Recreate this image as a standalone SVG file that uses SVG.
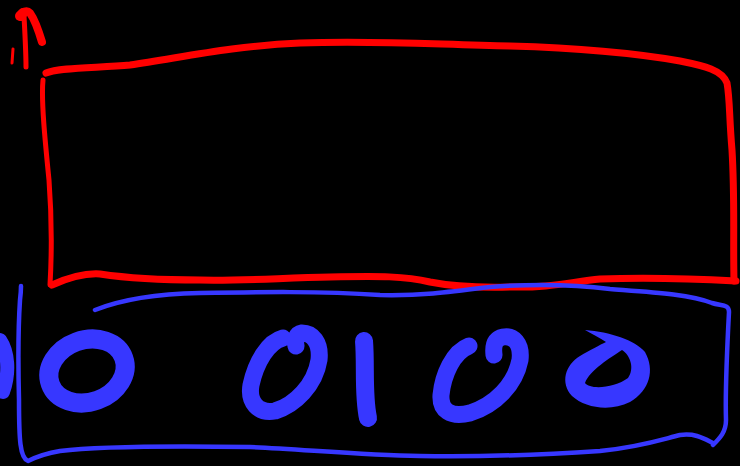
<svg xmlns="http://www.w3.org/2000/svg" width="740" height="466" viewBox="0 0 740 466">
<style>
.r{fill:none;stroke:#ff0000;stroke-linecap:round;stroke-linejoin:round}
.b{fill:none;stroke:#3737ff;stroke-linecap:round;stroke-linejoin:round}
.bf{fill:#3737ff;fill-rule:evenodd}
</style>
<rect width="740" height="466" fill="#000"/>
<g id="mark">
<path class="r" d="M21,17 C22,11 27,10 30,13 C35,20 39,32 42,42" stroke-width="8"/>
<path class="r" d="M24,16 C25,35 26,52 26,67" stroke-width="5"/>
<path class="r" d="M20,16 L23,13" stroke-width="10"/>
<path class="r" d="M13,49 L12,63" stroke-width="3"/>
</g>
<g id="red-box">
<path class="r" stroke-width="7" d="M46,73 C60,67 100,68 130,65 C180,58 230,46 300,43 C380,40 440,45 510,46 C580,48 640,54 680,61 C705,66 722,70 727,83 C730,100 729,115 732,150 C735,200 733,240 734,281"/>
<path class="r" stroke-width="7" d="M736,281 C700,279 650,277 600,279 C570,282 550,288 510,287 C470,288 450,286 430,282 C405,276 380,276 330,277 C280,278 240,281 200,280 C150,280 120,277 100,274 C85,273 70,277 52,285"/>
<path class="r" stroke-width="5" d="M43,80 C41,100 45,140 49,180 C52,220 52,250 50,285"/>
</g>
<g id="blue-box">
<path class="b" stroke-width="4.5" d="M95,310 C120,300 150,294 200,293 C260,292 320,291 380,295 C420,296 450,292 490,287 C530,284 570,284 610,289 C650,292 690,294 712,303 C722,306 729,304 729,312 C727,350 725,390 726,420 C726,432 720,438 713,445"/>
<path class="b" stroke-width="4.5" d="M713,443 C703,438 695,433 680,435 C660,440 640,447 600,451 C540,455 480,457 420,456 C360,455 300,449 250,447 C180,446 100,446 60,451 C42,454 34,458 28,461 C20,458 19,440 19,400 C18,360 18,330 20,300 C21,292 21,288 21,286"/>
</g>
<g id="digits">
<path class="b" stroke-width="14" d="M0,340 C8,352 10,372 3,392"/>
<ellipse class="b" cx="87" cy="371" rx="39" ry="31" transform="rotate(-20 87 371)" stroke-width="19"/>
<path class="b" stroke-width="17" d="M283,338 C268,342 256,362 251,385 C248,402 258,414 275,411 C295,405 315,385 319,360 C321,342 312,333 302,333 C296,334 295,340 296,346"/>
<path class="b" stroke-width="18" d="M364,341 C366,365 363,395 368,418"/>
<path class="b" stroke-width="17" d="M469,346 C453,352 443,375 441,395 C440,410 450,418 470,413 C495,405 515,385 520,360 C522,343 513,335 503,337 C494,339 493,346 494,355"/>
<path class="bf" d="M585,330 C610,332 635,340 645,352 C655,370 650,390 630,402 C610,412 585,408 572,396 C560,383 565,365 580,356 C590,350 600,345 606,342 C600,338 592,334 585,330 Z M622,350 C610,358 590,370 585,383 C590,390 615,388 628,378 C635,368 630,355 622,350 Z"/>
</g>
</svg>
